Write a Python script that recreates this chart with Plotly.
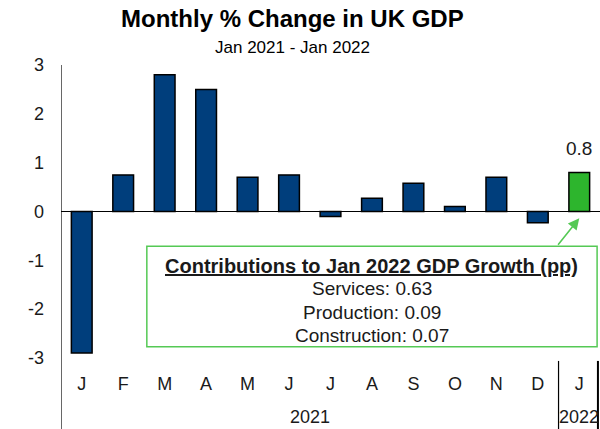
import plotly.graph_objects as go

# Monthly % change in UK GDP, Jan 2021 - Jan 2022
months = ["J", "F", "M", "A", "M", "J", "J", "A", "S", "O", "N", "D", "J"]
years = ["2021"] * 12 + ["2022"]
gdp_change = [-2.9, 0.75, 2.8, 2.5, 0.7, 0.75, -0.1, 0.27, 0.58, 0.1, 0.7, -0.23, 0.8]

# Sector contributions to Jan 2022 growth (percentage points)
sectors = ["Services", "Production", "Construction"]
contributions = [0.63, 0.09, 0.07]

y_ticks = [-3, -2, -1, 0, 1, 2, 3]

NAVY = "#003E7C"
GREEN = "#2DB52D"
BOX_GREEN = "#55C955"
TEXT = "#1a1a1a"
FONT = "Liberation Sans, Arial, sans-serif"

positions = list(range(len(months)))
colors = [GREEN if y == "2022" else NAVY for y in years]

fig = go.Figure()
fig.add_trace(go.Bar(
    x=positions,
    y=gdp_change,
    marker=dict(color=colors, line=dict(color="black", width=1.5)),
    hoverinfo="skip",
))

# Year groups under the month letters
year_names = list(dict.fromkeys(years))
year_centres = []
for yr in year_names:
    idx = [i for i, y in enumerate(years) if y == yr]
    year_centres.append((min(idx) + max(idx)) / 2)

annotations = []
for yr, xc in zip(year_names, year_centres):
    annotations.append(dict(
        x=xc, y=-0.203, xref="x", yref="paper", text=yr, showarrow=False,
        yanchor="middle", font=dict(size=18, color=TEXT, family=FONT),
    ))

# Value label on the latest month
last = len(gdp_change) - 1
annotations.append(dict(
    x=positions[last], y=gdp_change[last], xref="x", yref="y",
    text=f"{gdp_change[last]:.1f}", showarrow=False, yanchor="bottom", yshift=11,
    font=dict(size=19, color=TEXT, family=FONT),
))

# Title and subtitle
annotations.append(dict(
    x=0.4286, y=1.157, xref="paper", yref="paper", showarrow=False,
    text="<b>Monthly % Change in UK GDP</b>", yanchor="middle",
    font=dict(size=24, color="black", family=FONT),
))
annotations.append(dict(
    x=0.4286, y=1.061, xref="paper", yref="paper", showarrow=False,
    text="Jan 2021 - Jan 2022", yanchor="middle",
    font=dict(size=17, color="black", family=FONT),
))

# Contributions box text
box_x0, box_x1 = 1.57, 12.43
box_y0, box_y1 = -2.77, -0.71
box_cx = (box_x0 + box_x1) / 2
annotations.append(dict(
    x=box_cx, y=-1.11, xref="x", yref="y", showarrow=False, yanchor="middle",
    text="<b><u>Contributions to Jan 2022 GDP Growth (pp)</u></b>",
    font=dict(size=20, color=TEXT, family=FONT),
))
for k, (name, val) in enumerate(zip(sectors, contributions)):
    annotations.append(dict(
        x=box_cx, y=-1.58 - 0.48 * k, xref="x", yref="y", showarrow=False,
        yanchor="middle", text=f"{name}: {val:.2f}",
        font=dict(size=19, color=TEXT, family=FONT),
    ))

# Arrow from the box up to the Jan 2022 bar
annotations.append(dict(
    x=positions[last], y=-0.14, xref="x", yref="y",
    ax=11.46, ay=-0.71, axref="x", ayref="y",
    showarrow=True, arrowhead=2, arrowsize=1.4, arrowwidth=1.6,
    arrowcolor=BOX_GREEN, text="",
))

shapes = [
    # contributions box
    dict(type="rect", xref="x", yref="y", x0=box_x0, x1=box_x1, y0=box_y0, y1=box_y1,
         line=dict(color=BOX_GREEN, width=1.5), fillcolor="rgba(0,0,0,0)", layer="above"),
    # left axis line extended down past the category labels
    dict(type="line", xref="x", yref="paper", x0=-0.5, x1=-0.5, y0=-0.25, y1=1,
         line=dict(color="black", width=1.2)),
    # year group dividers
    dict(type="line", xref="x", yref="paper", x0=11.5, x1=11.5, y0=-0.25, y1=-0.01,
         line=dict(color="black", width=1.2)),
    dict(type="line", xref="x", yref="paper", x0=12.45, x1=12.45, y0=-0.25, y1=-0.01,
         line=dict(color="black", width=2)),
]

fig.update_layout(
    width=600, height=429,
    margin=dict(l=61, r=0, t=65, b=71),
    paper_bgcolor="white", plot_bgcolor="white",
    showlegend=False, bargap=0.5,
    font=dict(family=FONT, size=18, color=TEXT),
    annotations=annotations, shapes=shapes,
    xaxis=dict(
        range=[-0.5, len(months) - 0.5], tickvals=positions, ticktext=months,
        showgrid=False, zeroline=False, showline=False, ticks="",
        ticklabelstandoff=13, tickfont=dict(size=18, color=TEXT),
    ),
    yaxis=dict(
        range=[-3, 3], tickvals=y_ticks, ticktext=[str(v) for v in y_ticks],
        showgrid=False, zeroline=True, zerolinecolor="black", zerolinewidth=1.2,
        showline=False, ticks="", ticklabelstandoff=16,
        tickfont=dict(size=18, color=TEXT),
    ),
)

fig.write_html("out.html")
